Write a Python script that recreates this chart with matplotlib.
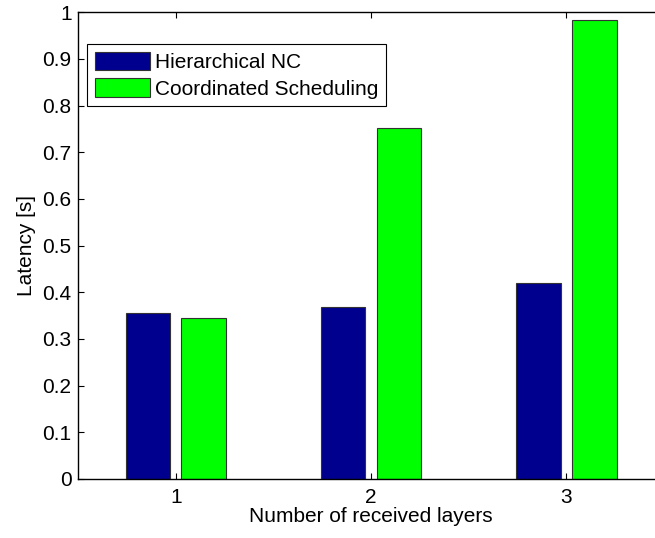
import matplotlib
matplotlib.use('Agg')
import matplotlib.pyplot as plt
import numpy as np

# Data
layers = [1, 2, 3]
hierarchical_nc = [0.355, 0.368, 0.420]
coordinated = [0.345, 0.753, 0.983]
series_names = ['Hierarchical NC', 'Coordinated Scheduling']
ytick_vals = [0, 0.1, 0.2, 0.3, 0.4, 0.5, 0.6, 0.7, 0.8, 0.9, 1]
ytick_labels = ['0', '0.1', '0.2', '0.3', '0.4', '0.5', '0.6', '0.7', '0.8', '0.9', '1']

plt.rcParams['font.family'] = ['Liberation Sans', 'DejaVu Sans']
fs = 15

fig = plt.figure(figsize=(6.55, 5.38), dpi=100)
# axes runs past the right edge of the image, like the cropped original
ax = fig.add_axes([0.1195, 0.1097, 0.894, 0.8675])

x = np.array(layers, dtype=float)
bw = 0.229
off = 0.143
ax.bar(x - off, hierarchical_nc, bw, color='#00008F', edgecolor='#333333',
       linewidth=0.8, label=series_names[0])
ax.bar(x + off, coordinated, bw, color='#00FF00', edgecolor='#333333',
       linewidth=0.8, label=series_names[1])

ax.set_xlim(0.5, 3.5)
ax.set_ylim(0, 1)
ax.set_xticks(layers)
ax.set_xticklabels([str(v) for v in layers])
ax.set_yticks(ytick_vals)
ax.set_yticklabels(ytick_labels)

ax.tick_params(direction='in', top=True, right=True, length=4.2,
               labelsize=fs, width=0.8)
ax.tick_params(axis='x', pad=6.5)
ax.tick_params(axis='y', pad=4.8)
for s in ax.spines.values():
    s.set_linewidth(1.0)
    s.set_color('black')

ax.set_xlabel('Number of received layers', fontsize=fs, labelpad=0)
ax.set_ylabel('Latency [s]', fontsize=fs, labelpad=5)

leg = ax.legend(loc='upper left', bbox_to_anchor=(87.3 / 655, 1 - 44.3 / 538),
                bbox_transform=fig.transFigure, borderaxespad=0,
                fontsize=fs, fancybox=False, framealpha=1, edgecolor='black',
                handlelength=2.64, handleheight=1.0, handletextpad=0.27,
                labelspacing=0.3, borderpad=0.35)
leg.get_frame().set_linewidth(0.8)

fig.savefig('out.png', dpi=100)
